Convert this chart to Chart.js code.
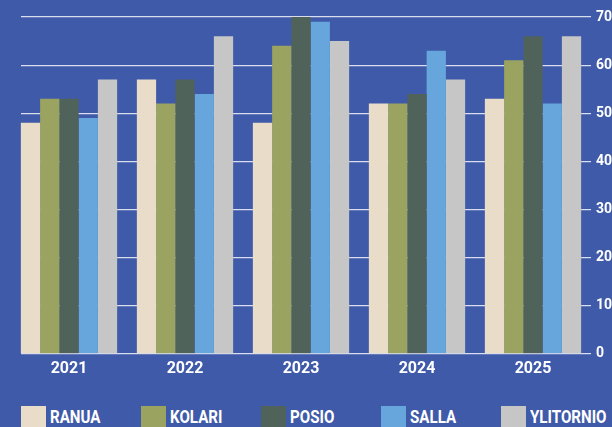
<!DOCTYPE html>
<html>
<head>
<meta charset="utf-8">
<script src="https://cdn.jsdelivr.net/npm/chart.js@4"></script>
<style>
  body { margin: 0; background: #3f5aa8; width: 612px; height: 427px; overflow: hidden; position: relative; }
  #wrap { position: absolute; left: 0; top: 0; width: 612px; height: 385px; }
  #legend { position: absolute; left: 21px; top: 406px; display: flex; }
  .item { width: 120px; display: flex; align-items: flex-start; }
  .box { width: 25px; height: 25px; margin-right: 4px; }
  .txt { color: #fff; font: bold 18px Roboto, sans-serif; line-height: 20px; margin-top: 1px; transform: scaleX(0.84); transform-origin: left top; white-space: nowrap; }
</style>
</head>
<body>
<div id="wrap"><canvas id="barChart"></canvas></div>
<div id="legend"></div>
<script>
const years = ["2021", "2022", "2023", "2024", "2025"];
const places = ["RANUA", "KOLARI", "POSIO", "SALLA", "YLITORNIO"];
const colors = ["#e9dcc9", "#9ba360", "#50635b", "#67a6dc", "#c6c6c6"];

const ranua = [48, 57, 48, 52, 53];
const kolari = [53, 52, 64, 52, 61];
const posio = [53, 57, 70, 54, 66];
const salla = [49, 54, 69, 63, 52];
const ylitornio = [57, 66, 65, 57, 66];

const values = [ranua, kolari, posio, salla, ylitornio];
const fontFam = "Roboto, sans-serif";
const bg = "#3f5aa8";

const datasets = places.map((p, i) => ({
  label: p,
  data: values[i],
  backgroundColor: colors[i],
  borderWidth: 0,
  categoryPercentage: 0.83,
  barPercentage: 1.0,
}));

// grid lines in the original start at the first bar, not the plot edge
const trimGrid = {
  id: "trimGrid",
  beforeDatasetsDraw(chart) {
    const a = chart.chartArea;
    const ctx = chart.ctx;
    ctx.save();
    ctx.fillStyle = bg;
    ctx.fillRect(a.left - 1, a.top - 2, 11, a.bottom - a.top + 4);
    ctx.restore();
  }
};

new Chart(document.getElementById("barChart").getContext("2d"), {
  type: "bar",
  data: { labels: years, datasets: datasets },
  options: {
    responsive: true,
    maintainAspectRatio: false,
    animation: false,
    layout: { padding: { left: 11, right: 0, top: 17, bottom: 0 } },
    plugins: { legend: { display: false }, tooltip: { enabled: false } },
    scales: {
      x: {
        grid: { display: false, drawTicks: false },
        border: { display: false },
        ticks: { color: "#fff", font: { family: fontFam, size: 16, weight: "bold" }, padding: 6 }
      },
      y: {
        position: "right",
        min: 0,
        max: 70,
        afterFit(scale) { scale.width = 21; },
        ticks: { stepSize: 10, color: "#fff", font: { family: fontFam, size: 14, weight: "bold" }, padding: 5 },
        grid: { color: "rgba(235,235,245,0.9)", lineWidth: 1.2, drawTicks: false },
        border: { display: false }
      }
    }
  },
  plugins: [trimGrid]
});

const legend = document.getElementById("legend");
places.forEach((p, i) => {
  const item = document.createElement("div");
  item.className = "item";
  item.innerHTML = '<div class="box" style="background:' + colors[i] + '"></div><div class="txt">' + p + "</div>";
  legend.appendChild(item);
});
</script>
</body>
</html>
